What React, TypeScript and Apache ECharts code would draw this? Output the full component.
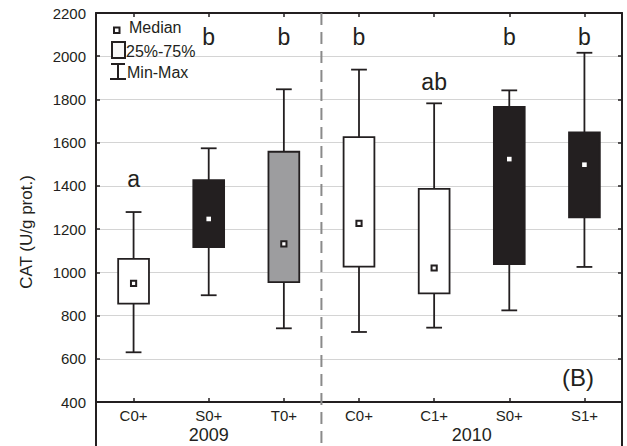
import React, { useEffect, useRef } from "react";
import * as echarts from "echarts";

const categories = ["C0+", "S0+", "T0+", "C0+", "C1+", "S0+", "S1+"];
const years = ["2009", "2010"];
const yearGroups = [[0, 2], [3, 6]];
const minVals = [630, 894, 741, 724, 744, 824, 1025];
const q1Vals = [855, 1117, 955, 1026, 903, 1038, 1255];
const medianVals = [949, 1247, 1132, 1227, 1020, 1524, 1498];
const q3Vals = [1062, 1427, 1558, 1626, 1386, 1766, 1648];
const maxVals = [1279, 1574, 1847, 1938, 1782, 1842, 2016];
const letters = ["a", "b", "b", "b", "ab", "b", "b"];
const letterLevels = [1430, 2087, 2087, 2087, 1879, 2087, 2087];
const boxFills = ["#ffffff", "#231f20", "#9d9d9f", "#ffffff", "#ffffff", "#231f20", "#231f20"];
const yTicks = { min: 400, max: 2200, interval: 200 };

const INK = "#231f20";
const FONT = "'Liberation Sans', Arial, sans-serif";

export default function App() {
  const ref = useRef<HTMLDivElement>(null);
  useEffect(() => {
    if (!ref.current) return;
    const chart = echarts.init(ref.current, null, { renderer: "svg" });
    const data = categories.map((_, i) => [i, minVals[i], q1Vals[i], medianVals[i], q3Vals[i], maxVals[i], letterLevels[i]]);
    const option: any = {
      animation: false,
      backgroundColor: "#ffffff",
      grid: { left: 96, right: 5, top: 13, bottom: 44, containLabel: false },
      xAxis: [
        {
          type: "category",
          data: categories,
          position: "bottom",
          axisLine: { show: true, lineStyle: { color: INK, width: 2 } },
          axisTick: { show: true, inside: true, alignWithLabel: true, length: 4, lineStyle: { color: INK, width: 1.5 } },
          axisLabel: { color: INK, fontFamily: FONT, fontSize: 15, margin: 6, interval: 0 },
          splitLine: { show: false },
        },
        {
          type: "category",
          data: categories,
          position: "top",
          axisLine: { show: true, lineStyle: { color: INK, width: 2 } },
          axisTick: { show: true, inside: true, alignWithLabel: true, length: 4, lineStyle: { color: INK, width: 1.5 } },
          axisLabel: { show: false },
          splitLine: { show: false },
        },
      ],
      yAxis: [
        {
          type: "value",
          min: yTicks.min,
          max: yTicks.max,
          interval: yTicks.interval,
          position: "left",
          axisLine: { show: true, lineStyle: { color: INK, width: 2 } },
          axisTick: { show: true, inside: true, length: 4, lineStyle: { color: INK, width: 1.5 } },
          axisLabel: { color: INK, fontFamily: FONT, fontSize: 15, margin: 10, formatter: (v: number) => String(v) },
          splitLine: { show: true, lineStyle: { color: "#d4d4d4", width: 1 } },
        },
        {
          type: "value",
          min: yTicks.min,
          max: yTicks.max,
          interval: yTicks.interval,
          position: "right",
          axisLine: { show: true, lineStyle: { color: INK, width: 2 } },
          axisTick: { show: true, inside: true, length: 4, lineStyle: { color: INK, width: 1.5 } },
          axisLabel: { show: false },
          splitLine: { show: false },
        },
      ],
      series: [
        {
          type: "custom",
          xAxisIndex: 0,
          yAxisIndex: 0,
          data,
          encode: { x: 0, y: [1, 2, 3, 4, 5] },
          renderItem: (params: any, api: any) => {
            const i = api.value(0);
            const idx = params.dataIndex;
            const pMin = api.coord([i, api.value(1)]);
            const pQ1 = api.coord([i, api.value(2)]);
            const pMed = api.coord([i, api.value(3)]);
            const pQ3 = api.coord([i, api.value(4)]);
            const pMax = api.coord([i, api.value(5)]);
            const pLet = api.coord([i, api.value(6)]);
            const w = api.size([1, 0])[0];
            const bw = w * 0.41;
            const cw = w * 0.21;
            const x = pMin[0];
            const fill = boxFills[idx];
            const dark = fill === "#231f20";
            const ls = { stroke: INK, lineWidth: 1.8 };
            const children: any[] = [
              { type: "line", shape: { x1: x, y1: pQ3[1], x2: x, y2: pMax[1] }, style: ls },
              { type: "line", shape: { x1: x, y1: pQ1[1], x2: x, y2: pMin[1] }, style: ls },
              { type: "line", shape: { x1: x - cw / 2, y1: pMax[1], x2: x + cw / 2, y2: pMax[1] }, style: ls },
              { type: "line", shape: { x1: x - cw / 2, y1: pMin[1], x2: x + cw / 2, y2: pMin[1] }, style: ls },
              {
                type: "rect",
                shape: { x: x - bw / 2, y: pQ3[1], width: bw, height: pQ1[1] - pQ3[1] },
                style: { fill, stroke: INK, lineWidth: 1.8 },
              },
            ];
            if (dark) {
              children.push({
                type: "rect",
                shape: { x: x - 2.3, y: pMed[1] - 2.3, width: 4.6, height: 4.6 },
                style: { fill: "#ffffff" },
              });
            } else {
              children.push({
                type: "rect",
                shape: { x: x - 2.6, y: pMed[1] - 2.6, width: 5.2, height: 5.2 },
                style: { fill: "#ffffff", stroke: INK, lineWidth: 2 },
              });
            }
            children.push({
              type: "text",
              style: {
                text: letters[idx],
                x,
                y: pLet[1],
                align: "center",
                verticalAlign: "middle",
                fontFamily: FONT,
                fontSize: 23,
                fill: INK,
              },
            });
            return { type: "group", children };
          },
        },
      ],
    };
    chart.setOption(option);

    const px = (i: number) => chart.convertToPixel({ xAxisIndex: 0 }, i) as number;
    const top = chart.convertToPixel({ yAxisIndex: 0 }, yTicks.max) as number;
    const bottom = chart.convertToPixel({ yAxisIndex: 0 }, yTicks.min) as number;
    const half = (px(1) - px(0)) / 2;
    const leftX = px(0) - half;
    const rightX = px(categories.length - 1) + half;
    const sepX = (px(2) + px(3)) / 2;
    const H = 446;

    const graphics: any[] = [
      { type: "line", shape: { x1: leftX, y1: bottom, x2: leftX, y2: H }, style: { stroke: INK, lineWidth: 2 } },
      { type: "line", shape: { x1: rightX, y1: bottom, x2: rightX, y2: H }, style: { stroke: INK, lineWidth: 2 } },
      {
        type: "line",
        shape: { x1: sepX, y1: top, x2: sepX, y2: H },
        style: { stroke: "#8a8a8a", lineWidth: 2, lineDash: [12, 7] },
        z: 10,
      },
      ...years.map((yr, k) => {
        const [a, b] = yearGroups[k];
        return {
          type: "text",
          style: {
            text: yr,
            x: (px(a) + px(b)) / 2,
            y: 435,
            align: "center",
            verticalAlign: "middle",
            fontFamily: FONT,
            fontSize: 18,
            fill: INK,
          },
        };
      }),
      {
        type: "text",
        rotation: Math.PI / 2,
        x: 26,
        y: 232,
        style: {
          text: "CAT (U/g prot.)",
          x: 0,
          y: 0,
          align: "center",
          verticalAlign: "middle",
          fontFamily: FONT,
          fontSize: 17,
          fill: INK,
        },
      },
      {
        type: "text",
        style: { text: "(B)", x: 578, y: 377, align: "center", verticalAlign: "middle", fontFamily: FONT, fontSize: 24, fill: INK },
      },
      // legend
      { type: "rect", shape: { x: 114, y: 27.5, width: 5.5, height: 5.5 }, style: { fill: "#ffffff", stroke: INK, lineWidth: 2 } },
      { type: "text", style: { text: "Median", x: 129, y: 27, align: "left", verticalAlign: "middle", fontFamily: FONT, fontSize: 16, fill: INK } },
      { type: "rect", shape: { x: 112, y: 42, width: 13, height: 16 }, style: { fill: "#f7f7f7", stroke: INK, lineWidth: 2 } },
      { type: "text", style: { text: "25%-75%", x: 126, y: 51, align: "left", verticalAlign: "middle", fontFamily: FONT, fontSize: 16, fill: INK } },
      { type: "line", shape: { x1: 118, y1: 64, x2: 118, y2: 79 }, style: { stroke: INK, lineWidth: 2 } },
      { type: "line", shape: { x1: 111, y1: 64, x2: 125, y2: 64 }, style: { stroke: INK, lineWidth: 2 } },
      { type: "line", shape: { x1: 110, y1: 79, x2: 126, y2: 79 }, style: { stroke: INK, lineWidth: 2 } },
      { type: "text", style: { text: "Min-Max", x: 127, y: 72, align: "left", verticalAlign: "middle", fontFamily: FONT, fontSize: 16, fill: INK } },
    ];
    chart.setOption({ graphic: graphics });

    return () => chart.dispose();
  }, []);
  return <div ref={ref} style={{ position: "absolute", left: 0, top: 0, width: 627, height: 446 }} />;
}
